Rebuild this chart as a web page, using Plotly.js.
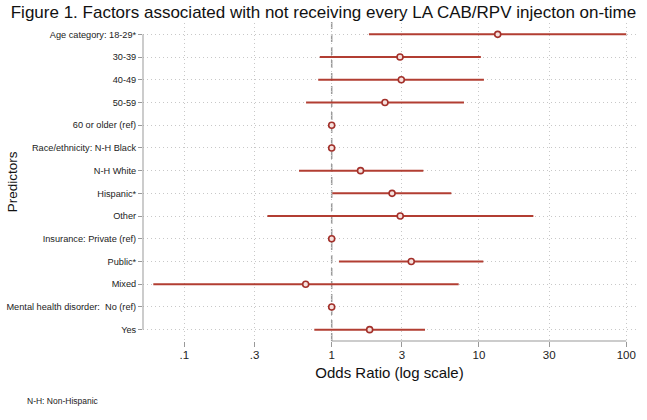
<!DOCTYPE html>
<html>
<head>
<meta charset="utf-8">
<script src="https://cdn.plot.ly/plotly-3.0.1.min.js"></script>
<style>html,body{margin:0;padding:0;background:#fff;}#chart{width:647px;height:420px;}</style>
</head>
<body>
<div id="chart"></div>
<script>
var predictors = ['Age category: 18-29*','30-39','40-49','50-59','60 or older (ref)',
  'Race/ethnicity: N-H Black','N-H White','Hispanic*','Other',
  'Insurance: Private (ref)','Public*','Mixed',
  'Mental health disorder:  No (ref)','Yes'];
var oddsRatio = [13.4, 2.91, 2.97, 2.30, 1, 1, 1.57, 2.57, 2.92, 1, 3.47, 0.666, 1, 1.81];
var ciLower   = [1.79, 0.83, 0.81, 0.67, 1, 1, 0.60, 1.01, 0.366, 1, 1.12, 0.0615, 1, 0.762];
var ciUpper   = [100, 10.3, 10.8, 7.91, 1, 1, 4.19, 6.49, 23.4, 1, 10.7, 7.28, 1, 4.30];
var xTickVals = [0.1, 0.3, 1, 3, 10, 30, 100];
var xTickText = ['.1', '.3', '1', '3', '10', '30', '100'];

var rows = predictors.map(function(_, i){ return i; });
var FONT = 'Liberation Sans, Arial, Helvetica, sans-serif';
var LINE = '#b23e32';

var trace = {
  type: 'scatter', mode: 'markers',
  x: oddsRatio, y: rows,
  error_x: {
    type: 'data', symmetric: false,
    array: oddsRatio.map(function(v, i){ return ciUpper[i] - v; }),
    arrayminus: oddsRatio.map(function(v, i){ return v - ciLower[i]; }),
    color: LINE, thickness: 2, width: 0
  },
  marker: {symbol: 'circle', size: 6, color: '#f6e2de', line: {color: '#a3302a', width: 1.6}},
  hoverinfo: 'skip', showlegend: false, cliponaxis: false
};

var layout = {
  width: 647, height: 420,
  margin: {l: 143, r: 11, t: 23, b: 79},
  paper_bgcolor: '#ffffff', plot_bgcolor: '#ffffff',
  font: {family: FONT, color: '#222', size: 10},
  title: {text: 'Figure 1. Factors associated with not receiving every LA CAB/RPV injecton on-time',
          font: {family: FONT, size: 17, color: '#111'},
          xref: 'container', x: 0.5, xanchor: 'center', yref: 'container', y: 0.972, yanchor: 'middle'},
  xaxis: {
    type: 'log', range: [-1.281, 2.066],
    tickmode: 'array', tickvals: xTickVals, ticktext: xTickText,
    ticks: 'outside', ticklen: 5, tickwidth: 1, tickcolor: '#999',
    tickfont: {size: 11.5, color: '#222'},
    ticklabelstandoff: -2,
    showline: false, zeroline: false,
    showgrid: true, gridcolor: '#c8c8c8', griddash: '1px,3px', gridwidth: 1,
    title: {text: 'Odds Ratio (log scale)', font: {size: 15, color: '#111'}, standoff: 7}
  },
  yaxis: {
    range: [13.5, -0.5], autorange: false,
    tickmode: 'array', tickvals: rows, ticktext: predictors,
    ticks: 'outside', ticklen: 4, tickwidth: 1, tickcolor: '#999',
    tickfont: {size: 9.2, color: '#222'},
    showline: false, zeroline: false,
    showgrid: true, gridcolor: '#c8c8c8', griddash: '1px,3px', gridwidth: 1
  },
  shapes: [
    {type: 'line', xref: 'paper', yref: 'y', x0: 0, x1: 0, y0: rows[0], y1: rows[rows.length - 1],
     line: {color: '#999', width: 1}},
    {type: 'line', xref: 'x', yref: 'paper', x0: 1, x1: 100, y0: 0, y1: 0,
     line: {color: '#999', width: 1}},
    {type: 'line', xref: 'x', yref: 'paper', x0: 1, x1: 1, y0: 0, y1: 1.003,
     line: {color: '#9a9a9a', width: 1.5, dash: '8px,5px'}, layer: 'below'}
  ],
  annotations: [
    {text: 'Predictors', textangle: -90, xref: 'paper', yref: 'paper',
     x: -0.265, y: 0.5, xanchor: 'center', yanchor: 'middle', showarrow: false,
     font: {size: 13.5, color: '#111'}},
    {text: 'N-H: Non-Hispanic', xref: 'paper', yref: 'paper',
     x: -0.2394, y: -0.19, xanchor: 'left', yanchor: 'middle', showarrow: false,
     font: {size: 8.5, color: '#222'}}
  ]
};

Plotly.newPlot('chart', [trace], layout, {displayModeBar: false, staticPlot: true});
</script>
</body>
</html>
